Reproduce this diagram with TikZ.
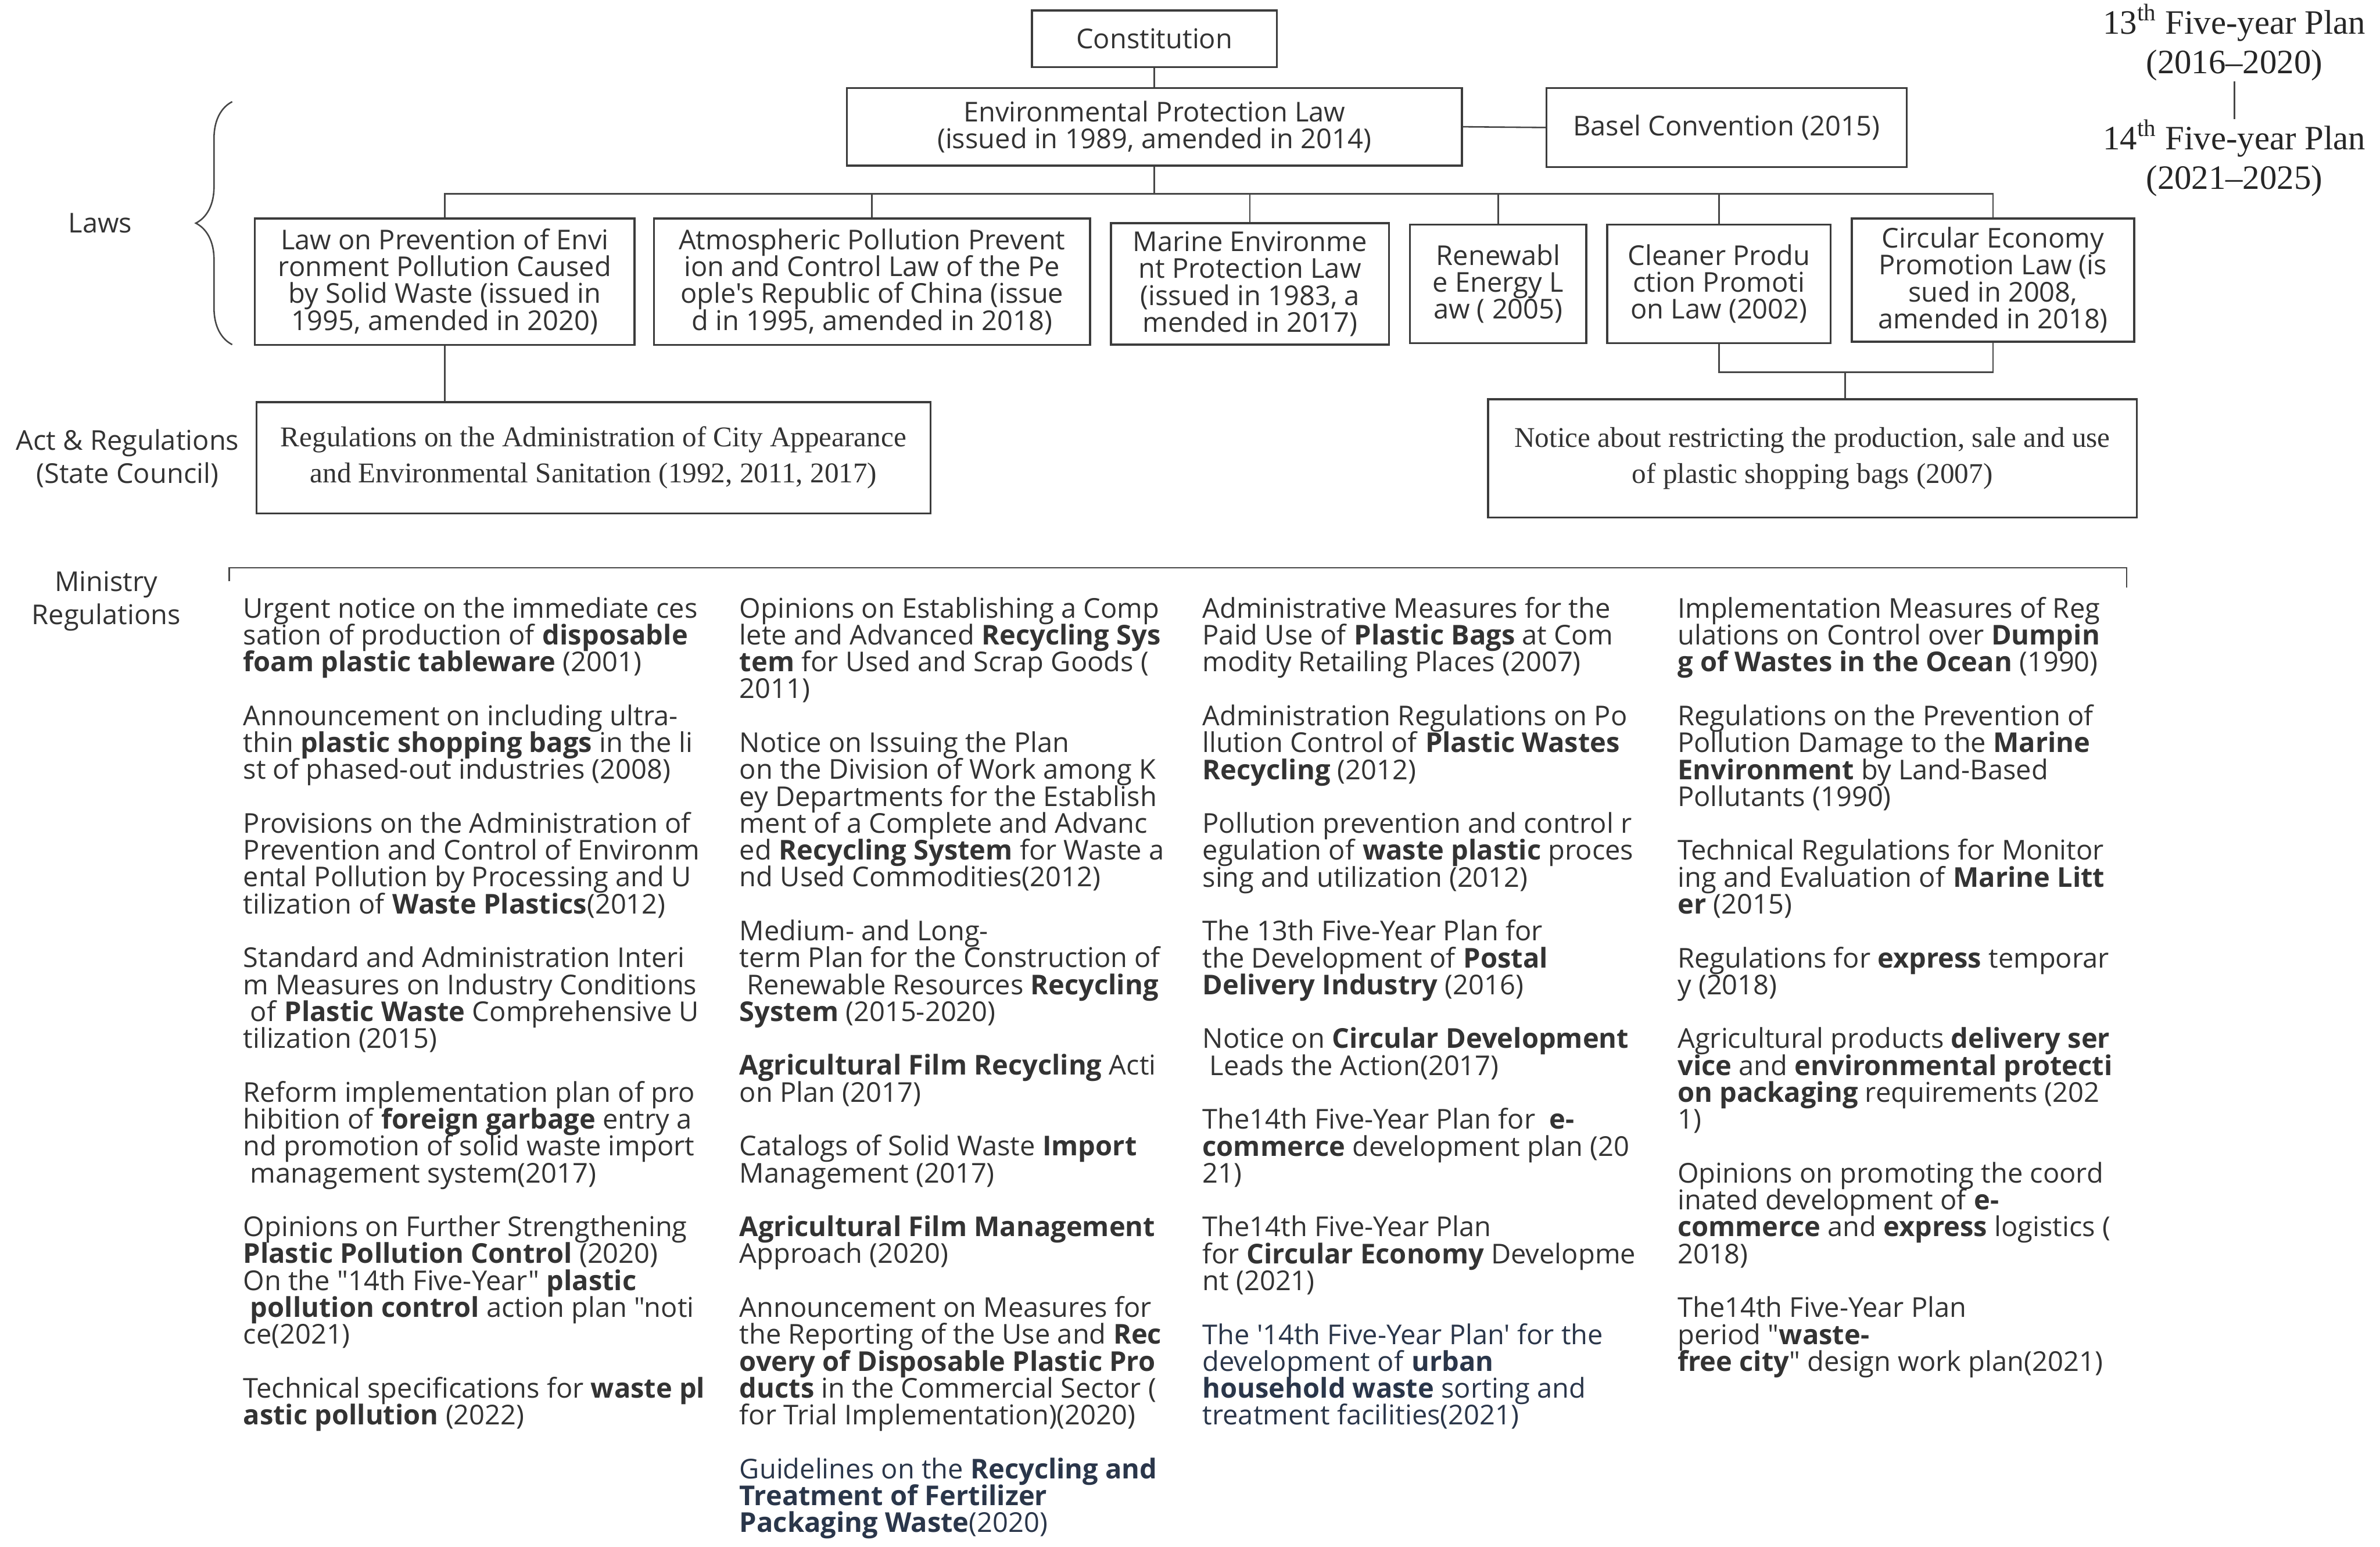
\documentclass[tikz,border=0pt]{standalone}
\usepackage{fontspec}
\setmainfont{Open Sans}[Ligatures=TeXOff]
\newfontfamily\serifface{Liberation Serif}
\usetikzlibrary{positioning,calc,decorations.pathreplacing}
\definecolor{inkgray}{RGB}{51,51,51}
\definecolor{inkslate}{RGB}{42,54,74}
\definecolor{boxgray}{RGB}{60,60,60}
\definecolor{linkgray}{RGB}{70,70,70}
\newcommand{\colfont}{\fontsize{12.8}{12.6}\selectfont\lineskiplimit=-\maxdimen}
\newcommand{\tierfont}{\fontsize{12.8}{15.4}\selectfont\lineskiplimit=-\maxdimen}
\newcommand{\serfont}{\serifface\fontsize{13.4}{17}\selectfont}
\newcommand{\planfont}{\serifface\fontsize{16}{18.4}\selectfont}
\newcommand{\slate}[1]{\textcolor{inkslate}{#1}}
\newcommand{\gapl}{12.6pt}
\tikzset{
  lawbox/.style={draw=boxgray, line width=0.9pt, align=center, font=\colfont,
                 text=inkgray, inner sep=2pt},
  serifbox/.style={draw=boxgray, line width=0.9pt, align=center, font=\serfont,
                   text=inkgray, inner sep=2pt},
  tierlbl/.style={align=center, font=\tierfont, text=inkgray, inner sep=0pt},
  planlbl/.style={align=center, font=\planfont, text=black!85, inner sep=0pt},
  regcol/.style={anchor=north west, align=left, inner sep=0pt, font=\colfont, text=inkgray},
  link/.style={draw=linkgray, line width=0.7pt},
  lawbrace/.style={draw=linkgray, line width=0.7pt,
                   decorate, decoration={brace, amplitude=0.6cm}},
}
\newcommand{\RegColA}{160}
\newcommand{\RegColB}{487}
\newcommand{\RegColC}{792}
\newcommand{\RegColD}{1105}
\newcommand{\RegTop}{393}

\begin{document}
\begin{tikzpicture}[x=0.025cm, y=-0.025cm]
  \useasboundingbox (0,0) rectangle (1568,1019);

  % top of the hierarchy
  \node[lawbox, minimum width=4.03cm, minimum height=0.93cm] (const) at (760.5,25.5) {Constitution};
  \node[lawbox, minimum width=10.13cm, minimum height=1.28cm] (epl) at (760.5,83.5)
    {Environmental Protection Law\\(issued in 1989, amended in 2014)};
  \node[lawbox, minimum width=5.93cm, minimum height=1.3cm] (basel) at (1137.5,84) {Basel Convention (2015)};

  % laws
  \node[lawbox, minimum width=6.25cm, minimum height=2.08cm] (solid) at (293,185.5)
    {Law on Prevention of Envi\\ronment Pollution Caused\\by Solid Waste (issued in\\1995, amended in 2020)};
  \node[lawbox, minimum width=7.18cm, minimum height=2.08cm] (air) at (574.5,185.5)
    {Atmospheric Pollution Prevent\\ion and Control Law of the Pe\\ople's Republic of China (issue\\d in 1995, amended in 2018)};
  \node[lawbox, minimum width=4.58cm, minimum height=2.0cm] (marine) at (823.5,187)
    {Marine Environme\\nt Protection Law\\(issued in 1983, a\\mended in 2017)};
  \node[lawbox, minimum width=2.9cm, minimum height=1.95cm] (renew) at (987,187)
    {Renewabl\\e Energy L\\aw ( 2005)};
  \node[lawbox, minimum width=3.68cm, minimum height=1.95cm] (clean) at (1132.5,187)
    {Cleaner Produ\\ction Promoti\\on Law (2002)};
  \node[lawbox, minimum width=4.65cm, minimum height=2.03cm] (circ) at (1313,184.5)
    {Circular Economy\\Promotion Law (is\\sued in 2008,\\amended in 2018)};

  % state council
  \node[serifbox, minimum width=11.1cm, minimum height=1.83cm] (cityreg) at (391,301.5)
    {Regulations on the Administration of City Appearance\\and Environmental Sanitation (1992, 2011, 2017)};
  \node[serifbox, minimum width=10.68cm, minimum height=1.95cm] (bagnote) at (1194,302)
    {Notice about restricting the production, sale and use\\of plastic shopping bags (2007)};

  % tier labels
  \node[tierlbl] (lawslbl) at (66,147) {Laws};
  \node[tierlbl] (actlbl) at (84,302) {Act \& Regulations\\(State Council)};
  \node[tierlbl] (minlbl) at (70,396) {Ministry\\Regulations};

  % five-year plans
  \node[planlbl] (plan13) at (1472,28) {13\textsuperscript{th} Five-year Plan\\(2016–2020)};
  \node[planlbl] (plan14) at (1472,104) {14\textsuperscript{th} Five-year Plan\\(2021–2025)};
  \draw[link] (plan13.south) -- (plan14.north);

  % connectors
  \draw[link] (const.south) -- (epl.north);
  \draw[link] (epl.east) -- (basel.west);
  \draw[link] (epl.south) -- ++(0,18) coordinate (bus);
  \draw[link] (solid.north) -- (solid.north |- bus) -- (circ.north |- bus) -- (circ.north);
  \foreach \n in {air,marine,renew,clean}
    \draw[link] (\n.north) -- (\n.north |- bus);
  \draw[link] (solid.south) -- (solid.south |- cityreg.north);
  \coordinate (bagjoin) at ($(clean.south)!0.46!(circ.south)+(0,19)$);
  \draw[link] (clean.south) |- (bagjoin) -| (circ.south);
  \draw[link] (bagjoin) -- (bagjoin |- bagnote.north);

  % brace and ministry bracket
  \coordinate (bracelo) at (153,227);
  \coordinate (bracehi) at (153,67);
  \draw[lawbrace] (bracelo) -- (bracehi);
  \coordinate (minL) at (151,374);
  \coordinate (minR) at (1401,374);
  \draw[link] ($(minL)+(0,9)$) -- (minL) -- (minR) -- ++(0,13);

  % ministry regulations
  \node[regcol] (regA) at (\RegColA,\RegTop) {%
    Urgent notice on the immediate ces\\
    sation of production of \textbf{disposable}\\
    \textbf{foam plastic tableware} (2001)\\[\gapl]
    Announcement on including ultra-\\
    thin \textbf{plastic shopping bags} in the li\\
    st of phased-out industries (2008)\\[\gapl]
    Provisions on the Administration of\\
    Prevention and Control of Environm\\
    ental Pollution by Processing and U\\
    tilization of \textbf{Waste Plastics}(2012)\\[\gapl]
    Standard and Administration Interi\\
    m Measures on Industry Conditions\\
    \ of \textbf{Plastic Waste} Comprehensive U\\
    tilization (2015)\\[\gapl]
    Reform implementation plan of pro\\
    hibition of \textbf{foreign garbage} entry a\\
    nd promotion of solid waste import\\
    \ management system(2017)\\[\gapl]
    Opinions on Further Strengthening\\
    \textbf{Plastic Pollution Control} (2020)\\
    On the "14th Five-Year" \textbf{plastic}\\
    \ \textbf{pollution control} action plan "noti\\
    ce(2021)\\[\gapl]
    Technical specifications for \textbf{waste pl}\\
    \textbf{astic pollution} (2022)};

  \node[regcol] (regB) at (\RegColB,\RegTop) {%
    Opinions on Establishing a Comp\\
    lete and Advanced \textbf{Recycling Sys}\\
    \textbf{tem} for Used and Scrap Goods (\\
    2011)\\[\gapl]
    Notice on Issuing the Plan\\
    on the Division of Work among K\\
    ey Departments for the Establish\\
    ment of a Complete and Advanc\\
    ed \textbf{Recycling System} for Waste a\\
    nd Used Commodities(2012)\\[\gapl]
    Medium- and Long-\\
    term Plan for the Construction of\\
    \ Renewable Resources \textbf{Recycling}\\
    \textbf{System} (2015-2020)\\[\gapl]
    \textbf{Agricultural Film Recycling} Acti\\
    on Plan (2017)\\[\gapl]
    Catalogs of Solid Waste \textbf{Import}\\
    Management (2017)\\[\gapl]
    \textbf{Agricultural Film Management}\\
    Approach (2020)\\[\gapl]
    Announcement on Measures for\\
    the Reporting of the Use and \textbf{Rec}\\
    \textbf{overy of Disposable Plastic Pro}\\
    \textbf{ducts} in the Commercial Sector (\\
    for Trial Implementation)(2020)\\[\gapl]
    \slate{Guidelines on the \textbf{Recycling and}}\\
    \slate{\textbf{Treatment of Fertilizer}}\\
    \slate{\textbf{Packaging Waste}(2020)}};

  \node[regcol] (regC) at (\RegColC,\RegTop) {%
    Administrative Measures for the\\
    Paid Use of \textbf{Plastic Bags} at Com\\
    modity Retailing Places (2007)\\[\gapl]
    Administration Regulations on Po\\
    llution Control of \textbf{Plastic Wastes}\\
    \textbf{Recycling} (2012)\\[\gapl]
    Pollution prevention and control r\\
    egulation of \textbf{waste plastic} proces\\
    sing and utilization (2012)\\[\gapl]
    The 13th Five-Year Plan for\\
    the Development of \textbf{Postal}\\
    \textbf{Delivery Industry} (2016)\\[\gapl]
    Notice on \textbf{Circular Development}\\
    \ Leads the Action(2017)\\[\gapl]
    The14th Five-Year Plan for\ \ \textbf{e-}\\
    \textbf{commerce} development plan (20\\
    21)\\[\gapl]
    The14th Five-Year Plan\\
    for \textbf{Circular Economy} Developme\\
    nt (2021)\\[\gapl]
    \slate{The '14th Five-Year Plan' for the}\\
    \slate{development of \textbf{urban}}\\
    \slate{\textbf{household waste} sorting and}\\
    \slate{treatment facilities(2021)}};

  \node[regcol] (regD) at (\RegColD,\RegTop) {%
    Implementation Measures of Reg\\
    ulations on Control over \textbf{Dumpin}\\
    \textbf{g of Wastes in the Ocean} (1990)\\[\gapl]
    Regulations on the Prevention of\\
    Pollution Damage to the \textbf{Marine}\\
    \textbf{Environment} by Land-Based\\
    Pollutants (1990)\\[\gapl]
    Technical Regulations for Monitor\\
    ing and Evaluation of \textbf{Marine Litt}\\
    \textbf{er} (2015)\\[\gapl]
    Regulations for \textbf{express} temporar\\
    y (2018)\\[\gapl]
    Agricultural products \textbf{delivery ser}\\
    \textbf{vice} and \textbf{environmental protecti}\\
    \textbf{on packaging} requirements (202\\
    1)\\[\gapl]
    Opinions on promoting the coord\\
    inated development of \textbf{e-}\\
    \textbf{commerce} and \textbf{express} logistics (\\
    2018)\\[\gapl]
    The14th Five-Year Plan\\
    period "\textbf{waste-}\\
    \textbf{free city}" design work plan(2021)};

\end{tikzpicture}
\end{document}
